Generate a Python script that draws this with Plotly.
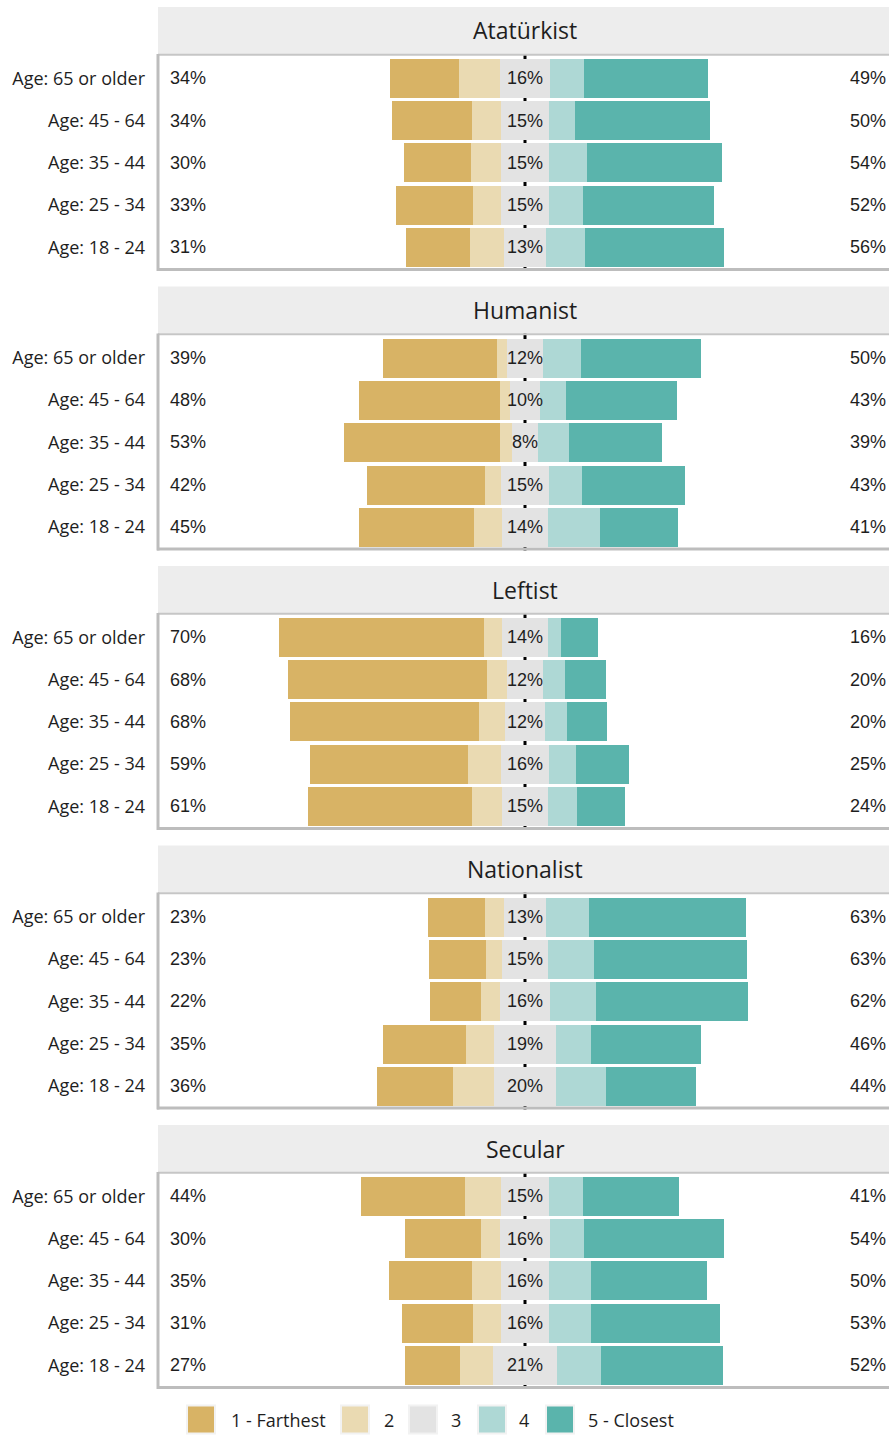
import plotly.graph_objects as go

W, H = 889, 1439

groups = ["Atatürkist", "Humanist", "Leftist", "Nationalist", "Secular"]
ages = ["Age: 65 or older", "Age: 45 - 64", "Age: 35 - 44", "Age: 25 - 34", "Age: 18 - 24"]
levels = ["1 - Farthest", "2", "3", "4", "5 - Closest"]
colors = ["#d8b365", "#eadab2", "#e3e3e3", "#aed8d5", "#5ab4ac"]

# Percent of respondents per response level (rows follow `ages`)
ataturkist_l1 = [22.0, 25.2, 21.1, 24.5, 20.4]
ataturkist_l2 = [12.6, 9.1, 9.4, 8.8, 10.7]
ataturkist_l3 = [16.0, 15.1, 15.1, 14.8, 12.9]
ataturkist_l4 = [10.4, 8.2, 11.9, 10.7, 12.3]
ataturkist_l5 = [39.0, 42.5, 42.5, 41.2, 43.7]

humanist_l1 = [35.8, 44.3, 49.1, 37.1, 36.2]
humanist_l2 = [3.1, 3.1, 3.8, 5.3, 8.8]
humanist_l3 = [11.6, 9.4, 8.2, 14.8, 14.2]
humanist_l4 = [11.9, 8.2, 9.7, 10.4, 16.4]
humanist_l5 = [37.7, 34.9, 29.2, 32.4, 24.5]

leftist_l1 = [64.5, 62.3, 59.7, 49.7, 51.6]
leftist_l2 = [5.7, 6.3, 8.2, 10.1, 9.4]
leftist_l3 = [14.2, 11.6, 12.3, 15.4, 14.5]
leftist_l4 = [4.1, 6.9, 7.2, 8.2, 9.1]
leftist_l5 = [11.6, 12.9, 12.3, 16.7, 15.1]

nationalist_l1 = [17.9, 17.9, 16.0, 26.4, 23.6]
nationalist_l2 = [6.0, 5.0, 6.0, 8.8, 12.9]
nationalist_l3 = [12.9, 14.5, 15.7, 19.2, 19.8]
nationalist_l4 = [13.8, 14.5, 14.5, 11.0, 15.7]
nationalist_l5 = [49.4, 48.1, 47.8, 34.6, 28.3]

secular_l1 = [32.7, 23.9, 26.1, 22.3, 17.3]
secular_l2 = [11.3, 6.0, 9.1, 8.8, 10.1]
secular_l3 = [15.1, 15.7, 15.4, 15.4, 20.4]
secular_l4 = [10.7, 10.7, 12.9, 12.9, 13.8]
secular_l5 = [30.2, 44.0, 36.5, 40.6, 38.4]

# Printed percentage labels
ataturkist_left = ["34%", "34%", "30%", "33%", "31%"]
ataturkist_mid = ["16%", "15%", "15%", "15%", "13%"]
ataturkist_right = ["49%", "50%", "54%", "52%", "56%"]
humanist_left = ["39%", "48%", "53%", "42%", "45%"]
humanist_mid = ["12%", "10%", "8%", "15%", "14%"]
humanist_right = ["50%", "43%", "39%", "43%", "41%"]
leftist_left = ["70%", "68%", "68%", "59%", "61%"]
leftist_mid = ["14%", "12%", "12%", "16%", "15%"]
leftist_right = ["16%", "20%", "20%", "25%", "24%"]
nationalist_left = ["23%", "23%", "22%", "35%", "36%"]
nationalist_mid = ["13%", "15%", "16%", "19%", "20%"]
nationalist_right = ["63%", "63%", "62%", "46%", "44%"]
secular_left = ["44%", "30%", "35%", "31%", "27%"]
secular_mid = ["15%", "16%", "16%", "16%", "21%"]
secular_right = ["41%", "54%", "50%", "53%", "52%"]

data = [
    ([ataturkist_l1, ataturkist_l2, ataturkist_l3, ataturkist_l4, ataturkist_l5],
     ataturkist_left, ataturkist_mid, ataturkist_right),
    ([humanist_l1, humanist_l2, humanist_l3, humanist_l4, humanist_l5],
     humanist_left, humanist_mid, humanist_right),
    ([leftist_l1, leftist_l2, leftist_l3, leftist_l4, leftist_l5],
     leftist_left, leftist_mid, leftist_right),
    ([nationalist_l1, nationalist_l2, nationalist_l3, nationalist_l4, nationalist_l5],
     nationalist_left, nationalist_mid, nationalist_right),
    ([secular_l1, secular_l2, secular_l3, secular_l4, secular_l5],
     secular_left, secular_mid, secular_right),
]

# ---- layout geometry (pixels) ----
PX_LEFT = 158.0
CENTER = 525.0
SCALE = 3.18  # px per percent
X_MIN = (PX_LEFT - CENTER) / SCALE
X_MAX = (W - CENTER) / SCALE
PERIOD = 279.5
STRIP_TOP0, STRIP_BOT0, PANEL_BOT0 = 7.0, 54.0, 271.0
LEFT_LABEL_X = -112.2
RIGHT_LABEL_X = 114.3


def py(p):
    return 1 - p / H


def px(p):
    return p / W


TXT = "#1e1e1e"
PCT_FONT = dict(family="Liberation Sans, Arial", size=18, color=TXT)
fig = go.Figure()
shapes = []
annotations = []

for k, (levels_vals, lab_l, lab_m, lab_r) in enumerate(data):
    ax = "" if k == 0 else str(k + 1)
    xref, yref = "x" + ax, "y" + ax
    # stacked diverging bars: neutral (level 3) centered on zero
    n = len(ages)
    start = [-(levels_vals[0][i] + levels_vals[1][i] + levels_vals[2][i] / 2) for i in range(n)]
    cum = list(start)
    for j, vals in enumerate(levels_vals):
        fig.add_trace(go.Bar(
            y=ages, x=vals, base=list(cum), orientation="h",
            marker=dict(color=colors[j], line=dict(width=0)),
            width=0.92, name=levels[j], showlegend=False,
            xaxis=xref, yaxis=yref, hoverinfo="name+x",
        ))
        cum = [cum[i] + vals[i] for i in range(n)]

    for i in range(n):
        annotations.append(dict(x=LEFT_LABEL_X, y=ages[i], xref=xref, yref=yref, text=lab_l[i],
                                showarrow=False, xanchor="left", yanchor="middle", font=PCT_FONT))
        annotations.append(dict(x=0, y=ages[i], xref=xref, yref=yref, text=lab_m[i],
                                showarrow=False, xanchor="center", yanchor="middle", font=PCT_FONT))
        annotations.append(dict(x=RIGHT_LABEL_X, y=ages[i], xref=xref, yref=yref, text=lab_r[i],
                                showarrow=False, xanchor="right", yanchor="middle", font=PCT_FONT))

    st = STRIP_TOP0 + k * PERIOD
    sb = STRIP_BOT0 + k * PERIOD
    pb = PANEL_BOT0 + k * PERIOD

    fig.update_layout(**{
        "xaxis" + ax: dict(domain=[px(PX_LEFT), 1], range=[X_MIN, X_MAX], anchor=yref,
                           showgrid=False, zeroline=False, showticklabels=False, ticks="",
                           fixedrange=True),
        "yaxis" + ax: dict(domain=[py(pb), py(sb)], type="category", categoryarray=ages,
                           categoryorder="array", range=[4.56, -0.575], anchor=xref,
                           showgrid=False, zeroline=False, ticks="", ticklabelstandoff=12,
                           tickfont=dict(family="Open Sans", size=18, color=TXT),
                           fixedrange=True),
    })

    # strip
    shapes.append(dict(type="rect", xref="paper", yref="paper", x0=px(PX_LEFT), x1=1,
                       y0=py(sb), y1=py(st), fillcolor="#ededed", line=dict(width=0), layer="below"))
    annotations.append(dict(x=px(CENTER), y=py((st + sb) / 2), xref="paper", yref="paper",
                            text=groups[k], showarrow=False, xanchor="center", yanchor="middle",
                            font=dict(family="Open Sans", size=23, color=TXT)))
    # centre reference line (behind bars)
    shapes.append(dict(type="line", xref=xref, yref=yref + " domain", x0=0, x1=0, y0=0, y1=1,
                       line=dict(color="black", width=3), layer="below"))
    # panel borders
    shapes.append(dict(type="line", xref="paper", yref="paper", x0=px(PX_LEFT), x1=1,
                       y0=py(sb + 0.8), y1=py(sb + 0.8), line=dict(color="#c6c6c6", width=2)))
    shapes.append(dict(type="line", xref="paper", yref="paper", x0=px(PX_LEFT - 1), x1=1,
                       y0=py(pb - 1.5), y1=py(pb - 1.5), line=dict(color="#bdbdbd", width=3)))
    shapes.append(dict(type="line", xref="paper", yref="paper", x0=px(PX_LEFT), x1=px(PX_LEFT),
                       y0=py(pb), y1=py(sb), line=dict(color="#bdbdbd", width=3)))

# manual legend
LEG_Y = 1419.5
leg_box_x = [187, 341, 409, 478, 546]
leg_text_x = [229, 382, 449, 517, 586]
for j in range(5):
    shapes.append(dict(type="rect", xref="paper", yref="paper",
                       x0=px(leg_box_x[j]), x1=px(leg_box_x[j] + 28),
                       y0=py(LEG_Y + 14), y1=py(LEG_Y - 14),
                       fillcolor=colors[j], line=dict(color="#f2f2f2", width=2)))
    annotations.append(dict(x=px(leg_text_x[j]), y=py(LEG_Y), xref="paper", yref="paper",
                            text=levels[j], showarrow=False, xanchor="left", yanchor="middle",
                            font=dict(family="Open Sans", size=18, color=TXT)))

fig.update_layout(
    width=W, height=H, margin=dict(l=0, r=0, t=0, b=0),
    paper_bgcolor="white", plot_bgcolor="white",
    barmode="overlay", bargap=0, showlegend=False,
    shapes=shapes, annotations=annotations,
)

fig.write_html(
    "out.html",
    config={"displayModeBar": False},
    post_script="document.body.style.margin='0';document.body.style.padding='0';"
                "document.body.style.overflow='hidden';",
)
